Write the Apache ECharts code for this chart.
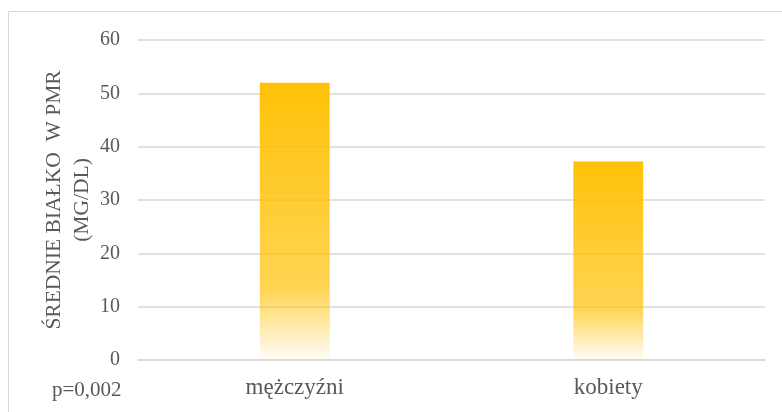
<!DOCTYPE html>
<html>
<head>
<meta charset="utf-8">
<script src="https://cdn.jsdelivr.net/npm/echarts@6/dist/echarts.min.js"></script>
<style>
html,body{margin:0;padding:0;background:#fff;}
#chart{width:782px;height:412px;}
</style>
</head>
<body>
<div id="chart"></div>
<script>
var categories = ['mężczyźni', 'kobiety'];
var values = [52, 37.2];
var yTicks = [0, 10, 20, 30, 40, 50, 60];
var yAxisName = 'ŚREDNIE BIAŁKO  W PMR\n(MG/DL)';
var note = 'p=0,002';

var FONT = '"Liberation Serif", "Times New Roman", serif';
var chart = echarts.init(document.getElementById('chart'), null, {renderer: 'canvas'});
chart.setOption({
  animation: false,
  backgroundColor: '#ffffff',
  grid: {left: 138, right: 17, top: 40, bottom: 52, containLabel: false},
  xAxis: {
    type: 'category',
    data: categories,
    axisLine: {show: true, lineStyle: {color: '#d9d9d9', width: 1.5}},
    axisTick: {show: false},
    axisLabel: {color: '#595959', fontFamily: FONT, fontSize: 23, margin: 16}
  },
  yAxis: {
    type: 'value',
    min: yTicks[0],
    max: yTicks[yTicks.length - 1],
    interval: 10,
    axisLine: {show: false},
    axisTick: {show: false},
    splitLine: {lineStyle: {color: '#d9d9d9', width: 1.5}},
    axisLabel: {color: '#595959', fontFamily: FONT, fontSize: 20, margin: 18},
    name: yAxisName,
    nameLocation: 'middle',
    nameGap: 42,
    nameMoveOverlap: false,
    nameRotate: 90,
    nameTextStyle: {color: '#595959', fontFamily: FONT, fontSize: 21.5, lineHeight: 28, align: 'center'}
  },
  series: [{
    type: 'bar',
    data: values,
    barWidth: '22.3%',
    itemStyle: {
      color: new echarts.graphic.LinearGradient(0, 0, 0, 1, [
        {offset: 0, color: 'rgba(255,192,0,0.97)'},
        {offset: 0.74, color: 'rgba(255,192,0,0.68)'},
        {offset: 1, color: 'rgba(255,192,0,0.03)'}
      ])
    }
  }],
  graphic: [
    {type: 'rect', shape: {x: 8.5, y: 11.5, width: 800, height: 420}, style: {fill: 'none', stroke: '#d9d9d9', lineWidth: 1}, z: -10},
    {type: 'text', left: 52, top: 380, style: {text: note, fill: '#595959', font: '21px ' + FONT}}
  ]
});
</script>
</body>
</html>
